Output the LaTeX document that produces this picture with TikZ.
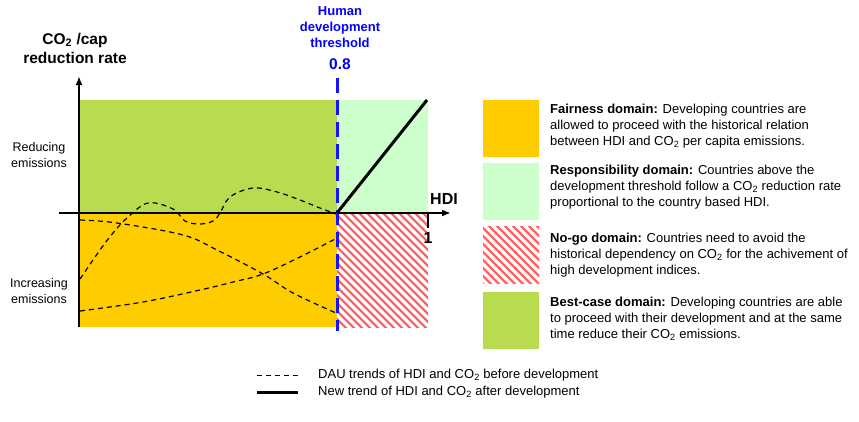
\documentclass[tikz,border=0pt]{standalone}
\usepackage{fontspec}
\setmainfont{Liberation Sans}
\usetikzlibrary{arrows.meta}
\definecolor{fair}{RGB}{255,204,0}
\definecolor{best}{RGB}{185,219,80}
\definecolor{resp}{RGB}{204,255,204}
\definecolor{nogo}{RGB}{255,100,100}
\definecolor{thr}{RGB}{20,20,255}
\newcommand{\cotwo}{CO\textsubscript{2}}
\tikzset{
  legtext/.style={anchor=north west, inner sep=0pt, align=left, font=\fontsize{13}{16}\selectfont},
  trend/.style={dash pattern=on 5pt off 4pt, line width=1.2pt},
  axisline/.style={line width=2.2pt, -{Latex[length=9pt,width=7pt]}},
  newtrend/.style={line width=3pt},
  sidelabel/.style={align=center, inner sep=0pt, font=\fontsize{12.5}{16}\selectfont},
  swatch/.style={anchor=north west, inner sep=0pt, minimum width=56pt, minimum height=57pt},
  bottomtext/.style={anchor=west, inner sep=0pt, font=\fontsize{13}{15}\selectfont},
}
\begin{document}
\begin{tikzpicture}[x=1pt,y=-1pt]
\useasboundingbox (0,0) rectangle (859,421);
% key coordinates
\coordinate (O) at (80,213);
\coordinate (T) at (337,213);
\coordinate (E) at (428,213);
% domain areas
\fill[best] (80,100) rectangle (337,213);
\fill[resp] (337,100) rectangle (428,213);
\fill[fair] (80,213) rectangle (337,327);
\begin{scope}
  \clip (337,213) rectangle (428,327);
  \foreach \i in {-130,-122,...,100}
    \draw[nogo, line width=2.2pt] (337+\i,205) -- ++(130,130);
\end{scope}
% DAU trends
\draw[trend] plot[smooth, tension=0.6] coordinates {(80,279) (100,250) (113,233) (127,218) (148,203) (173,209) (185,221) (200,224) (213,221) (220,213) (230,197) (253,188) (277,192) (300,200) (320,208) (336,214)};
\draw[trend] plot[smooth, tension=0.6] coordinates {(80,220) (117,223) (183,235) (217,250) (263,274) (293,293) (336,313)};
\draw[trend] plot[smooth, tension=0.6] coordinates {(80,311) (143,302) (200,290) (233,282) (263,274) (300,257) (337,238)};
% axes
\coordinate (ybot) at (79,327);
\coordinate (ytop) at (79,76);
\coordinate (xleft) at (59,213);
\coordinate (xright) at (451,213);
\draw[axisline] (ybot) -- (ytop);
\draw[axisline] (xleft) -- (xright);
\coordinate (tickb) at (428,228);
\draw[line width=2pt] (E) -- (tickb);
% threshold
\coordinate (thrtop) at (337,78);
\coordinate (thrbot) at (337,331);
\draw[thr, line width=3pt, dash pattern=on 15pt off 7pt] (thrtop) -- (thrbot);
% new trend
\coordinate (newtop) at (427,100);
\draw[newtrend] (T) -- (newtop);
% axis labels
\node[align=center, inner sep=0pt, font=\fontsize{15.5}{19}\bfseries\selectfont] (ylab) at (75,48) {\cotwo{} /cap\\reduction rate};
\node[align=center, inner sep=0pt, text=blue, font=\fontsize{13}{16}\bfseries\selectfont] (thrlab) at (340,27) {Human\\development\\threshold};
\node[inner sep=0pt, text=blue, font=\fontsize{15.5}{18}\bfseries\selectfont] (thrval) at (340,64) {0.8};
\node[inner sep=0pt, font=\fontsize{16}{18}\bfseries\selectfont] (xlab) at (444,199) {HDI};
\node[inner sep=0pt, font=\fontsize{16}{18}\bfseries\selectfont] (one) at (428,238) {1};
\node[sidelabel] (red) at (39,155) {Reducing\\emissions};
\node[sidelabel] (inc) at (39,291) {Increasing\\emissions};
% legend swatches
\node[swatch, fill=fair] (s1) at (483,100) {};
\node[swatch, fill=resp] (s2) at (483,163) {};
\node[swatch] (s3) at (483,226) {};
\begin{scope}
  \clip (483,226) rectangle (539,283);
  \foreach \i in {-64,-56,...,60}
    \draw[nogo, line width=2.2pt] (483+\i,220) -- ++(70,70);
\end{scope}
\node[swatch, fill=best] (s4) at (483,292) {};
% legend texts
\node[legtext] (t1) at (550,104) {\textbf{Fairness domain:} Developing countries are\\allowed to proceed with the historical relation\\between HDI and \cotwo{} per capita emissions.};
\node[legtext] (t2) at (550,165) {\textbf{Responsibility domain:} Countries above the\\development threshold follow a \cotwo{} reduction rate\\proportional to the country based HDI.};
\node[legtext] (t3) at (550,233) {\textbf{No-go domain:} Countries need to avoid the\\historical dependency on \cotwo{} for the achivement of\\high development indices.};
\node[legtext] (t4) at (550,297) {\textbf{Best-case domain:} Developing countries are able\\to proceed with their development and at the same\\time reduce their \cotwo{} emissions.};
% bottom legend
\coordinate (l1a) at (257,375);
\coordinate (l1b) at (298,375);
\coordinate (l2a) at (257,392);
\coordinate (l2b) at (298,392);
\draw[trend, line width=1pt] (l1a) -- (l1b);
\draw[newtrend] (l2a) -- (l2b);
\node[bottomtext] (b1) at (318,375) {DAU trends of HDI and \cotwo{} before development};
\node[bottomtext] (b2) at (318,392) {New trend of HDI and \cotwo{} after development};
\end{tikzpicture}
\end{document}
